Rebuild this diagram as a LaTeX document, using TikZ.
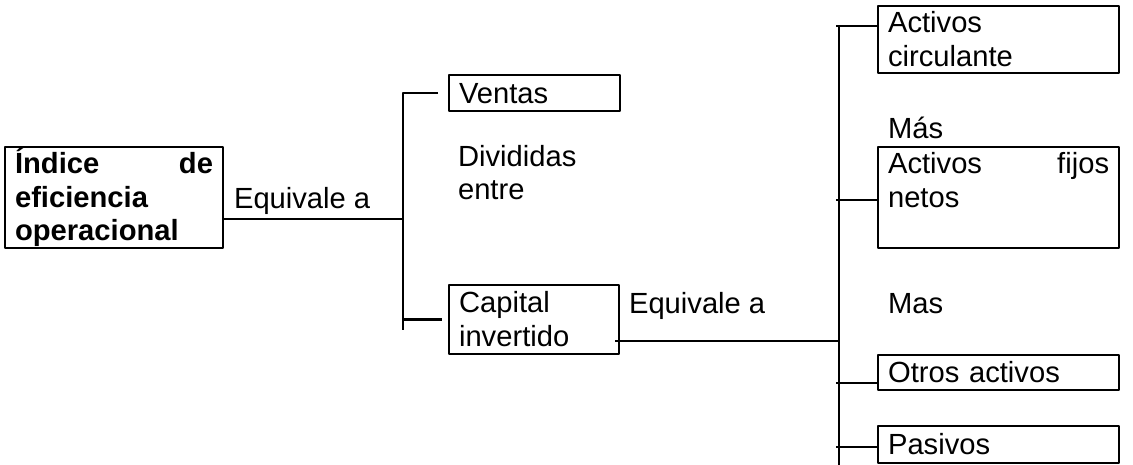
\documentclass[tikz,border=0pt]{standalone}
\usepackage{fontspec}
\setmainfont{Liberation Sans}
\newcommand\linestrut{\rule[-3.2pt]{0pt}{16.1pt}}
\tikzset{
  box/.style={draw, anchor=north west, inner xsep=4.8pt, inner ysep=0pt, align=left, text width=#1,
    execute at begin node=\linestrut, execute at end node=\linestrut},
  lbl/.style={anchor=north west, inner sep=0pt, align=left, execute at begin node=\linestrut}
}
\begin{document}
\begin{tikzpicture}[x=0.48pt,y=-0.48pt,line width=1pt,line join=round,font=\fontsize{14}{16.1}\selectfont]
    \useasboundingbox (0,0) rectangle (1133,465);
    \node[box=95pt,font=\fontsize{14}{16.1}\selectfont\bfseries] (idx) at (4,146) {Índice\hfill de\\ eficiencia\\ operacional};
    \node[box=72.5pt,minimum height=17.3pt] (ventas) at (448,74) {Ventas};
    \node[box=72pt,minimum height=33.1pt] (cap) at (448,284) {Capital\\ invertido};
    \node[box=106.1pt] (circ) at (877,5) {Activos\\ circulante};
    \node[box=106.1pt] (fijos) at (877,146) {Activos\hfill fijos\\ netos\\ \mbox{}};
    \node[box=106.1pt,minimum height=16.8pt] (otros) at (877,354) {Otros activos};
    \node[box=106.1pt,minimum height=17.8pt] (pas) at (877,425) {Pasivos};
    \node[lbl] (eq1) at (233,181) {Equivale a};
    \node[lbl] (div) at (457,144) {Divididas\\ entre};
    \node[lbl] (eq2) at (628,286) {Equivale a};
    \node[lbl] (mas1) at (887,111) {Más};
    \node[lbl] (mas2) at (887,286) {Mas};
    \coordinate (j1) at (403,219);
    \coordinate (j1bot) at (403,330);
    \draw (idx.east |- j1) -- (j1);
    \draw ([xshift=-4.8pt]ventas.west) -| (j1bot);
    \draw (j1bot |- cap.west) -- ([xshift=-3pt]cap.west);
    \coordinate (j2) at (839,341);
    \coordinate (j2top) at (839,26);
    \coordinate (j2bot) at (839,465);
    \draw ([xshift=-2.4pt]cap.east |- j2) -- (j2);
    \draw (j2top) -- (j2bot);
    \foreach \n/\y in {circ/26,fijos/200,otros/383,pas/447}
    {\coordinate (t\n) at (836,\y); \draw (t\n) -- (t\n -| \n.west);}
\end{tikzpicture}
\end{document}
